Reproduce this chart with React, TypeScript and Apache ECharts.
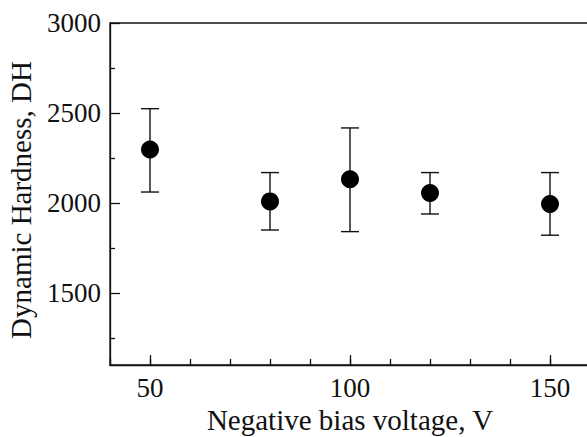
import React, { useEffect, useRef } from "react";
import * as echarts from "echarts";

const voltages = [50, 80, 100, 120, 150];
const hardness = [2297, 2009, 2132, 2056, 1994];
const errLow = [2061, 1850, 1841, 1939, 1821];
const errHigh = [2524, 2169, 2417, 2169, 2169];

const xMinorTicks = [40, 50, 60, 70, 80, 90, 100, 110, 120, 130, 140, 150, 160];
const xMajorTicks = [50, 100, 150];
const yMinorTicks = [1250, 1750, 2250, 2750];
const yMajorTicks = [1500, 2000, 2500, 3000];

const FONT = "Liberation Serif";
const INK = "#111";

export default function App() {
  const ref = useRef<HTMLDivElement>(null);
  useEffect(() => {
    if (!ref.current) return;
    const chart = echarts.init(ref.current, undefined, { renderer: "svg" });
    const labelStyle = { color: INK, fontFamily: FONT, fontSize: 27 };
    const titleStyle = { color: INK, fontFamily: FONT, fontSize: 29 };
    chart.setOption({
      animation: false,
      backgroundColor: "#fff",
      grid: {
        left: 110,
        right: -3,
        top: 23,
        bottom: 72,
        containLabel: false,
        outerBoundsMode: "none",
        show: true,
        borderColor: INK,
        borderWidth: 1.3,
      },
      xAxis: [
        {
          type: "value",
          min: 40,
          max: 160,
          position: "bottom",
          name: "Negative bias voltage, V",
          nameLocation: "middle",
          nameGap: 38,
          nameTextStyle: { ...titleStyle },
          axisLine: { show: true, onZero: false, lineStyle: { color: INK, width: 1.3 } },
          axisTick: { show: true, inside: true, length: 6, customValues: xMinorTicks, lineStyle: { color: INK, width: 1.3 } },
          axisLabel: { show: true, customValues: xMajorTicks, margin: 9, formatter: (v: number) => String(v), ...labelStyle },
          splitLine: { show: false },
        },
        {
          type: "value",
          min: 40,
          max: 160,
          position: "bottom",
          axisLine: { show: false, onZero: false },
          axisTick: { show: true, inside: true, length: 10, customValues: xMajorTicks, lineStyle: { color: INK, width: 1.3 } },
          axisLabel: { show: false },
          splitLine: { show: false },
        },
      ],
      yAxis: [
        {
          type: "value",
          min: 1100,
          max: 3000,
          name: "Dynamic Hardness, DH",
          nameLocation: "middle",
          nameGap: 75,
          nameTextStyle: { ...titleStyle, padding: [0, 12, 0, 0] },
          axisLine: { show: true, onZero: false, lineStyle: { color: INK, width: 1.3 } },
          axisTick: { show: true, inside: true, length: 5, customValues: yMinorTicks, lineStyle: { color: INK, width: 1.3 } },
          axisLabel: { show: true, customValues: yMajorTicks, margin: 9, formatter: (v: number) => String(v), ...labelStyle },
          splitLine: { show: false },
        },
        {
          type: "value",
          min: 1100,
          max: 3000,
          position: "left",
          axisLine: { show: false, onZero: false },
          axisTick: { show: true, inside: true, length: 10, customValues: yMajorTicks, lineStyle: { color: INK, width: 1.3 } },
          axisLabel: { show: false },
          splitLine: { show: false },
        },
      ],
      series: [
        {
          type: "custom",
          xAxisIndex: 0,
          yAxisIndex: 0,
          data: voltages.map((v, i) => [v, errLow[i], errHigh[i]]),
          renderItem: (params: any, api: any) => {
            const x = api.value(0);
            const lo = api.coord([x, api.value(1)]);
            const hi = api.coord([x, api.value(2)]);
            const hw = 9;
            const style = { stroke: INK, lineWidth: 1.4 };
            return {
              type: "group",
              children: [
                { type: "line", shape: { x1: lo[0], y1: lo[1], x2: hi[0], y2: hi[1] }, style },
                { type: "line", shape: { x1: lo[0] - hw, y1: lo[1], x2: lo[0] + hw, y2: lo[1] }, style },
                { type: "line", shape: { x1: hi[0] - hw, y1: hi[1], x2: hi[0] + hw, y2: hi[1] }, style },
              ],
            };
          },
          z: 2,
        },
        {
          type: "scatter",
          xAxisIndex: 0,
          yAxisIndex: 0,
          data: voltages.map((v, i) => [v, hardness[i]]),
          symbol: "circle",
          symbolSize: 18,
          itemStyle: { color: "#000", opacity: 1 },
          z: 3,
        },
      ],
    });
    return () => chart.dispose();
  }, []);
  return <div ref={ref} style={{ width: 587, height: 437, position: "fixed", left: 0, top: 0 }} />;
}
